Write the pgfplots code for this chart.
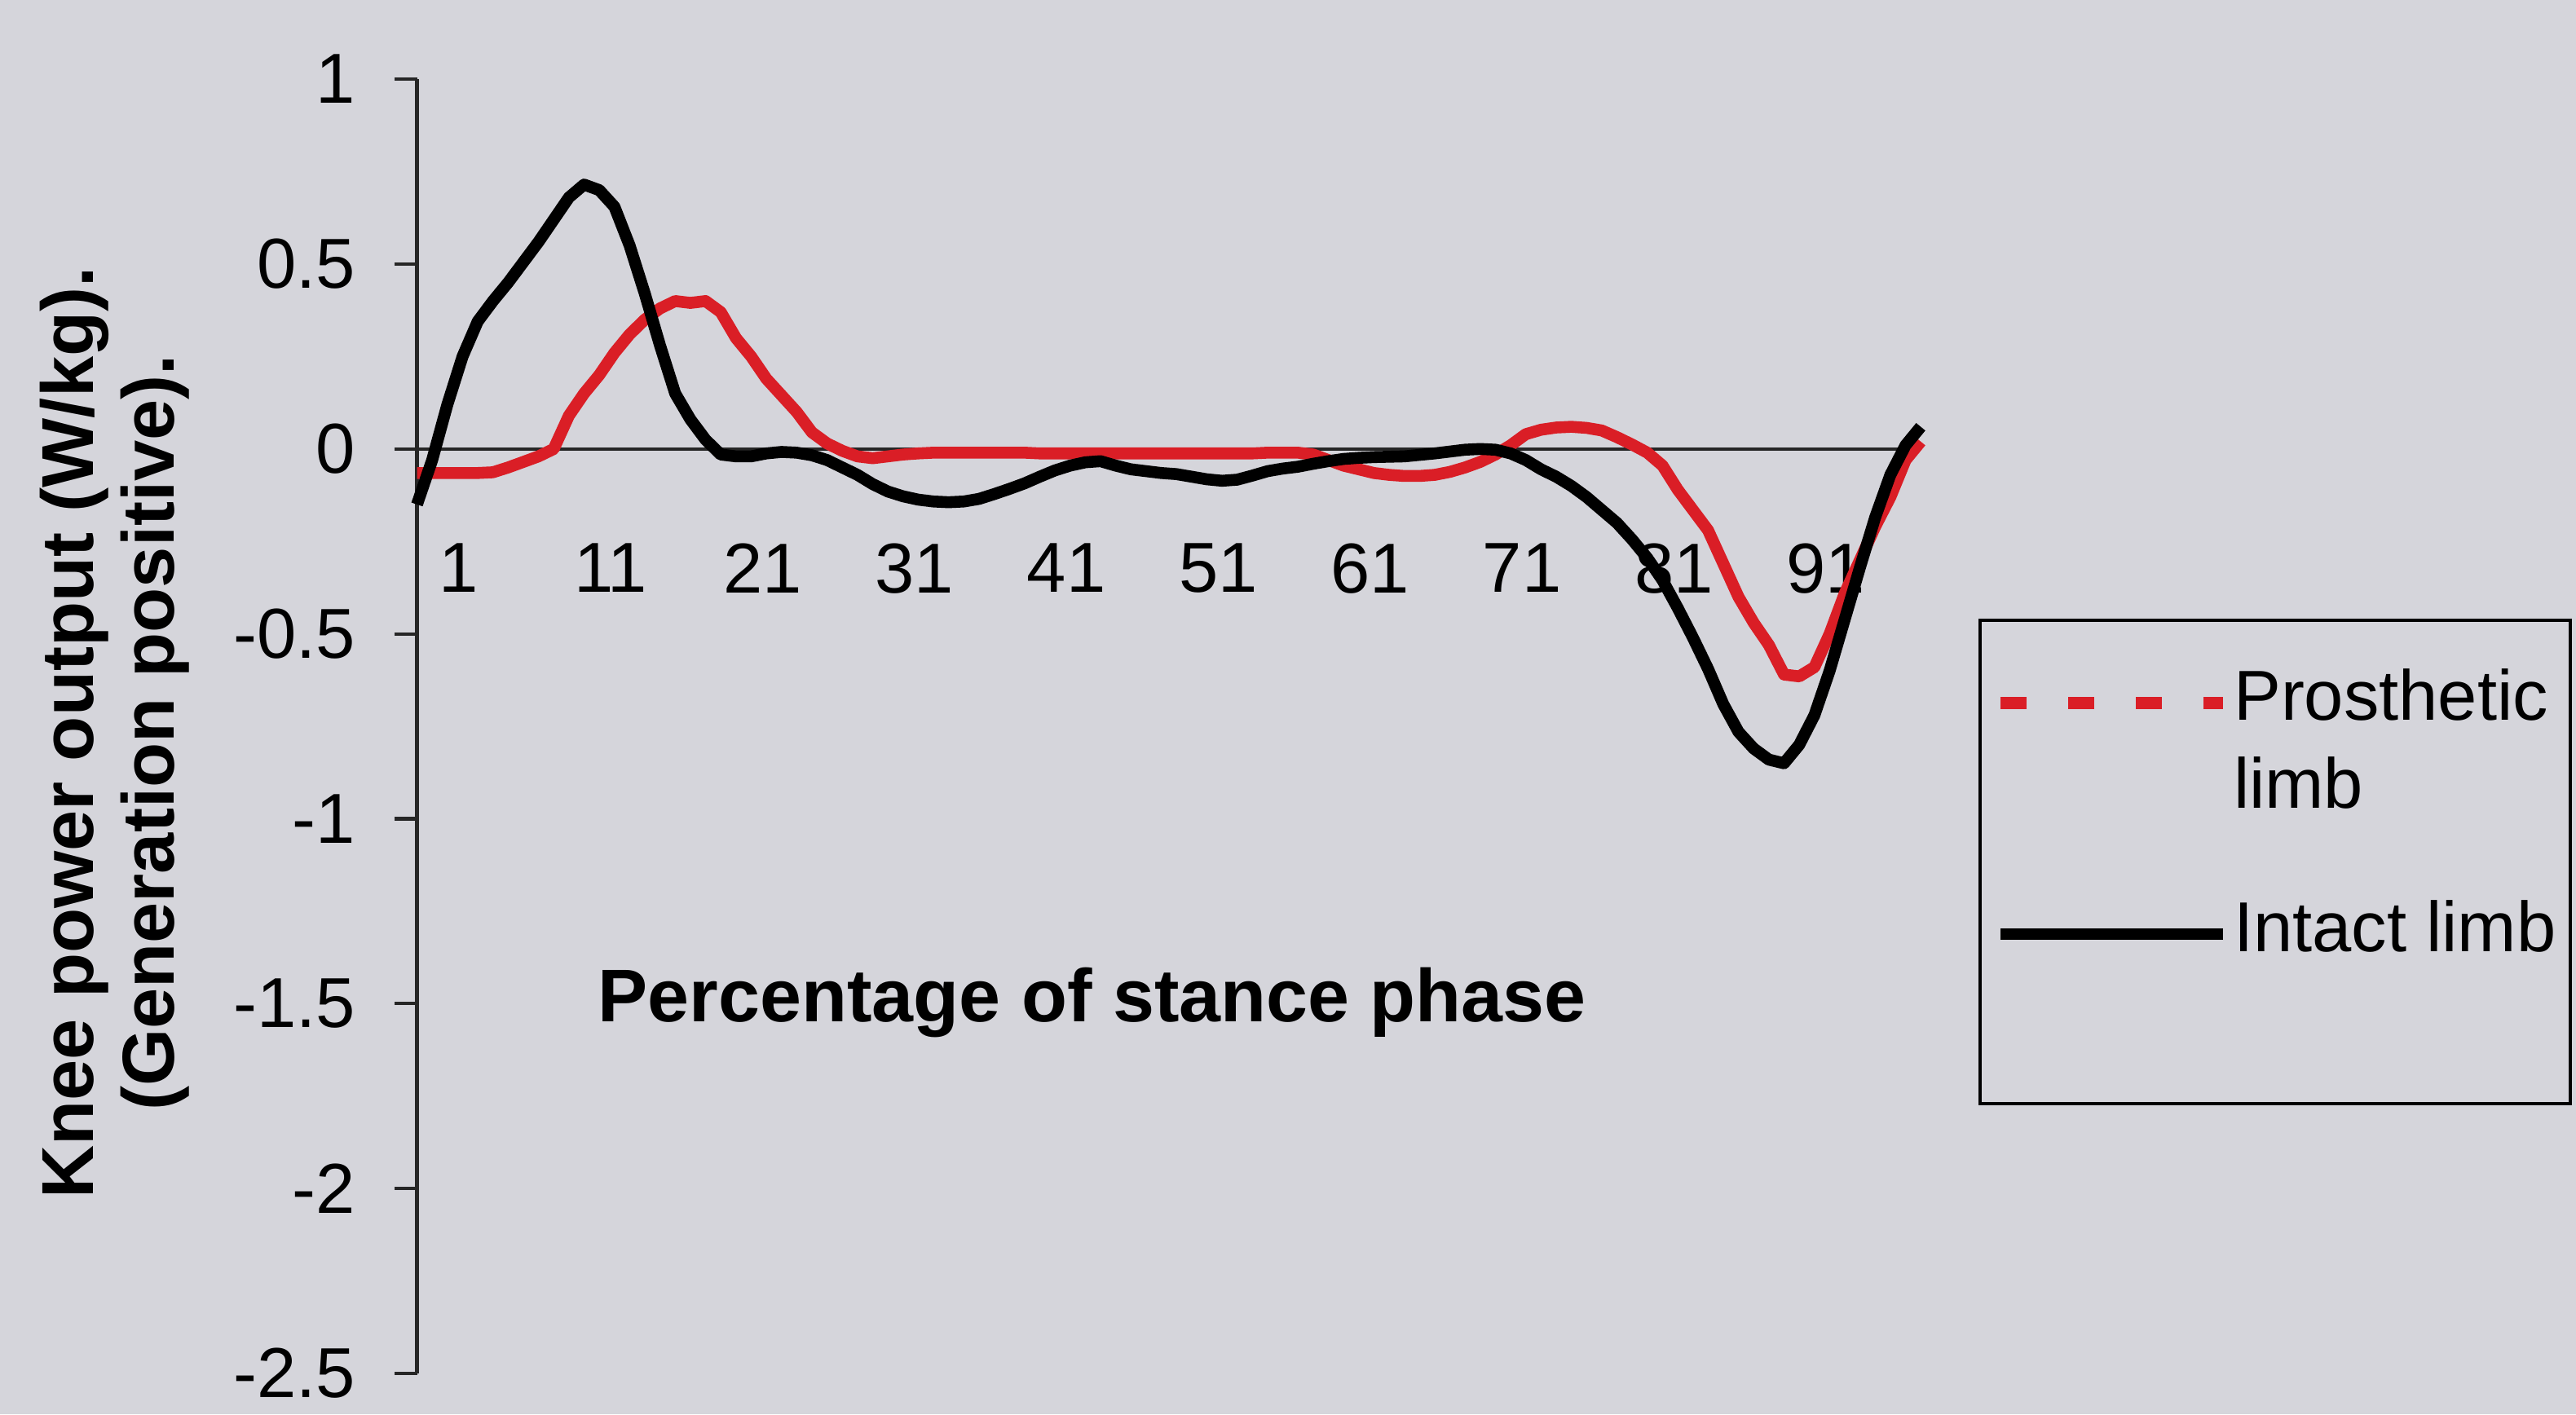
\documentclass[border=0pt]{standalone}
\usepackage{fontspec}
\setmainfont{Liberation Sans}
\usepackage{pgfplots}
\pgfplotsset{compat=1.18}
\definecolor{bg}{RGB}{213,213,219}
\definecolor{prosred}{RGB}{218,30,38}

\begin{document}
\begin{tikzpicture}
\fill[bg] (-2.59,-0.253) rectangle (13.41,8.532);
\useasboundingbox (-2.59,-0.253) rectangle (13.41,8.532);
\begin{axis}[
  at={(0,0)}, anchor=south west,
  scale only axis, width=9.34cm, height=8.04cm,
  xmin=1, xmax=100, ymin=-2.5, ymax=1,
  enlargelimits=false, clip=false,
  axis x line=middle, axis y line=left,
  axis line style={-, line width=0.6pt, black!85},
  hide obscured x ticks=false, hide obscured y ticks=false,
  tick align=outside, major tick length=0.14cm,
  ytick={-2.5,-2,-1.5,-1,-0.5,0,0.5,1},
  yticklabels={-2.5,-2,-1.5,-1,-0.5,0,0.5,1},
  ytick style={line width=0.6pt, black!85},
  yticklabel style={anchor=east, inner sep=0pt, xshift=-0.235cm, font=\fontsize{12.5}{15}\selectfont},
  xtick={1,11,21,31,41,51,61,71,81,91},
  xticklabels={1,11,21,31,41,51,61,71,81,91},
  xtick style={draw=none},
  xticklabel style={anchor=north, inner sep=0pt, yshift=-0.44cm, xshift=0.26cm,
    font=\fontsize{12.5}{15}\selectfont},
  xlabel={Percentage of stance phase},
  xlabel style={at={(axis description cs:0.449,0.272)}, anchor=base,
    font=\fontsize{13.2}{15}\selectfont\bfseries},
  ylabel={Knee power output (W/kg).\\(Generation positive).},
  ylabel style={at={(axis description cs:-0.201,0.495)}, anchor=center, align=center,
    font=\fontsize{13}{14.3}\selectfont\bfseries},
  legend style={at={(axis description cs:1.0385,0.583)}, anchor=north west,
    draw=black, line width=0.6pt, fill=bg,
    inner xsep=0.09cm, inner ysep=0.3cm,
    font=\fontsize{12.5}{15.5}\selectfont,
    nodes={inner sep=0pt},
    cells={anchor=base west},
    column sep=0.03cm, row sep=0.52cm},
]
\addplot[prosred, line width=2.1pt, line join=round,
  legend image code/.code={\draw[prosred, line width=2.1pt, dash pattern=on 0.16cm off 0.26cm] (0cm,0.651cm) -- (1.38cm,0.651cm);}]
coordinates {
(1,-0.065) (2,-0.065) (3,-0.065) (4,-0.065) (5,-0.065) (6,-0.063) (7,-0.05) (8,-0.035) (9,-0.02) (10,0.0)
(11,0.09) (12,0.15) (13,0.20) (14,0.26) (15,0.31) (16,0.35) (17,0.38) (18,0.40) (19,0.395) (20,0.40)
(21,0.37) (22,0.30) (23,0.25) (24,0.19) (25,0.145) (26,0.10) (27,0.045) (28,0.015) (29,-0.005) (30,-0.02)
(31,-0.025) (32,-0.02) (33,-0.015) (34,-0.012) (35,-0.01) (36,-0.01) (37,-0.01) (38,-0.01) (39,-0.01) (40,-0.01)
(41,-0.01) (42,-0.012) (43,-0.012) (44,-0.012) (45,-0.012) (46,-0.012) (47,-0.012) (48,-0.012) (49,-0.012) (50,-0.012)
(51,-0.012) (52,-0.012) (53,-0.012) (54,-0.012) (55,-0.012) (56,-0.012) (57,-0.01) (58,-0.01) (59,-0.01) (60,-0.015)
(61,-0.03) (62,-0.045) (63,-0.055) (64,-0.065) (65,-0.07) (66,-0.073) (67,-0.073) (68,-0.07) (69,-0.062) (70,-0.05)
(71,-0.035) (72,-0.015) (73,0.01) (74,0.04) (75,0.052) (76,0.058) (77,0.06) (78,0.057) (79,0.05) (80,0.032)
(81,0.012) (82,-0.01) (83,-0.045) (84,-0.11) (85,-0.165) (86,-0.22) (87,-0.31) (88,-0.40) (89,-0.47) (90,-0.53)
(91,-0.61) (92,-0.615) (93,-0.59) (94,-0.50) (95,-0.39) (96,-0.30) (97,-0.21) (98,-0.13) (99,-0.03) (100,0.02)
};
\addlegendentry{\vbox{\hbox{Prosthetic}\hbox{limb}}}
\addplot[black, line width=2.1pt, line join=round,
  legend image code/.code={\draw[black, line width=2.1pt] (0cm,0.106cm) -- (1.38cm,0.106cm);}]
coordinates {
(1,-0.15) (2,-0.03) (3,0.12) (4,0.25) (5,0.345) (6,0.40) (7,0.45) (8,0.505) (9,0.56) (10,0.62)
(11,0.68) (12,0.715) (13,0.70) (14,0.655) (15,0.55) (16,0.42) (17,0.28) (18,0.15) (19,0.08) (20,0.025)
(21,-0.015) (22,-0.02) (23,-0.02) (24,-0.012) (25,-0.008) (26,-0.01) (27,-0.017) (28,-0.03) (29,-0.05) (30,-0.07)
(31,-0.095) (32,-0.115) (33,-0.128) (34,-0.137) (35,-0.142) (36,-0.144) (37,-0.142) (38,-0.135) (39,-0.122) (40,-0.108)
(41,-0.093) (42,-0.075) (43,-0.058) (44,-0.045) (45,-0.036) (46,-0.033) (47,-0.045) (48,-0.055) (49,-0.06) (50,-0.065)
(51,-0.068) (52,-0.075) (53,-0.082) (54,-0.086) (55,-0.083) (56,-0.072) (57,-0.06) (58,-0.053) (59,-0.048) (60,-0.04)
(61,-0.033) (62,-0.027) (63,-0.024) (64,-0.022) (65,-0.021) (66,-0.02) (67,-0.016) (68,-0.012) (69,-0.007) (70,-0.002)
(71,0.0) (72,-0.002) (73,-0.012) (74,-0.03) (75,-0.055) (76,-0.075) (77,-0.10) (78,-0.13) (79,-0.165) (80,-0.20)
(81,-0.245) (82,-0.295) (83,-0.355) (84,-0.43) (85,-0.51) (86,-0.595) (87,-0.69) (88,-0.765) (89,-0.81) (90,-0.84)
(91,-0.85) (92,-0.80) (93,-0.72) (94,-0.60) (95,-0.46) (96,-0.32) (97,-0.185) (98,-0.07) (99,0.01) (100,0.06)
};
\addlegendentry{Intact limb}
\addlegendimage{empty legend}
\addlegendentry{\rule{0pt}{0.02cm}}
\end{axis}
\end{tikzpicture}
\end{document}
